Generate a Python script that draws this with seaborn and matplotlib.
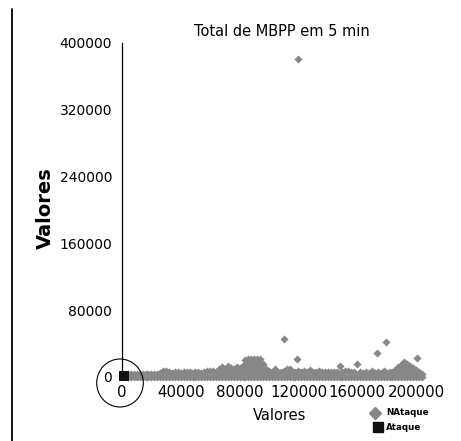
import pandas as pd
import matplotlib
matplotlib.use("Agg")
import matplotlib.pyplot as plt
from matplotlib.lines import Line2D
from matplotlib.patches import Ellipse
from matplotlib.ticker import MultipleLocator
import seaborn as sns

# ---- data -------------------------------------------------------------
# sample positions (in thousands) along the capture
amostra_mil = [2, 4, 6, 8, 10, 12, 14, 16, 18, 20, 22, 24, 26, 28, 30, 32, 34,
               36, 38, 40, 42, 44, 46, 48, 50, 52, 54, 56, 58, 60, 62, 64, 66,
               68, 70, 72, 74, 76, 78, 80, 82, 84, 86, 88, 90, 92, 94, 96, 98,
               100, 102, 104, 106, 108, 110, 112, 114, 116, 118, 120, 122, 124,
               126, 128, 130, 132, 134, 136, 138, 140, 142, 144, 146, 148, 150,
               152, 154, 156, 158, 160, 162, 164, 166, 168, 170, 172, 174, 176,
               178, 180, 182, 184, 186, 188, 190, 192, 194, 196, 198, 200, 202,
               204]
# upper values of the normal traffic at each position
topo_nataque = [3600, 3200, 3600, 3400, 3600, 3600, 3200, 3600, 3600, 3400,
                3600, 3600, 4400, 7500, 7200, 5600, 5200, 5600, 5600, 5000,
                5600, 5400, 5600, 5000, 5600, 5600, 5200, 6000, 7500, 7200,
                7500, 5600, 9600, 12000, 9600, 13400, 10800, 9600, 12000, 10800,
                13000, 20500, 21600, 21600, 21600, 21600, 21000, 15500, 9000,
                7200, 6000, 9600, 6500, 6000, 7200, 9600, 9000, 6500, 6000,
                7000, 6000, 7200, 6000, 8400, 6500, 6000, 7000, 6000, 5600,
                6000, 5600, 5600, 6000, 13200, 6000, 7500, 7500, 6500, 5600,
                15200, 5600, 4800, 5600, 5200, 6900, 5000, 5600, 4800, 6700,
                5200, 5600, 6500, 8700, 11500, 14500, 18300, 16000, 13500,
                11000, 8500, 6000, 4000]
# lowest values of the normal traffic at each position
base_nataque = [0] * len(amostra_mil)
# intermediate readings inside the denser stretches
meio_mil = [66, 68, 70, 72, 74, 76, 78, 80, 82,
            84, 84, 84, 86, 86, 86, 88, 88, 88, 90, 90, 90, 92, 92, 92,
            94, 94, 94, 96, 96, 98, 104, 112, 114,
            186, 188, 190, 190, 192, 192, 192, 194, 194, 196, 198, 200]
meio_val = [5000, 5500, 5000, 5500, 5000, 5000, 5500, 5000, 5500,
            5500, 11000, 16000, 5500, 11000, 16000, 5500, 11000, 16000,
            5500, 11000, 16000, 5500, 11000, 16000, 5500, 11000, 16000,
            5000, 10000, 4500, 4800, 4800, 4800,
            4500, 5500, 5000, 10000, 5000, 10000, 14000, 5000, 10500, 6500,
            5500, 4500]
# isolated readings of normal traffic
isolado_x = [119500, 110400, 118800, 179500, 173200, 200800]
isolado_y = [380600, 45500, 21600, 42300, 28400, 22400]
# attack readings
ataque_x = [1700]
ataque_y = [600]

xticks = [0, 40000, 80000, 120000, 160000, 200000]
yticks = [0, 80000, 160000, 240000, 320000, 400000]

cinza = "#878787"
preto = "#111111"

nataque = pd.DataFrame({
    "amostra": [v * 1000 for v in amostra_mil + amostra_mil + meio_mil] + isolado_x,
    "valor": base_nataque + topo_nataque + meio_val + isolado_y,
})
ataque = pd.DataFrame({"amostra": ataque_x, "valor": ataque_y})

# ---- figure -------------------------------------------------------------
sns.set_style("white")
plt.rcParams["font.family"] = ["DejaVu Sans"]

W, H = 461, 441
fig = plt.figure(figsize=(W / 100, H / 100), dpi=100)
x0, y0 = 122, 377          # pixel position of the origin
ax_w, ax_h = 302.8, 334
ax = fig.add_axes([x0 / W, (H - y0) / H, ax_w / W, ax_h / H])

sns.scatterplot(data=nataque, x="amostra", y="valor", ax=ax, marker="D",
                s=17, color=cinza, linewidth=0, clip_on=False, zorder=3,
                legend=False)
sns.scatterplot(data=ataque, x="amostra", y="valor", ax=ax, marker="s",
                s=55, color=preto, linewidth=0, clip_on=False, zorder=4,
                legend=False)

ax.set_xlim(0, 206000)
ax.set_ylim(0, 400000)
ax.set_xticks(xticks)
ax.set_xticklabels([str(t) for t in xticks])
ax.set_yticks(yticks)
ax.set_yticklabels([str(t) for t in yticks])
ax.yaxis.set_minor_locator(MultipleLocator(20000))

for side in ["top", "right", "bottom"]:
    ax.spines[side].set_visible(False)
ax.spines["left"].set_color("black")
ax.spines["left"].set_linewidth(0.9)
ax.spines["left"].set_zorder(2)

ax.tick_params(axis="y", which="major", direction="out", length=4, width=0.9,
               pad=3, labelsize=10, colors="black")
ax.tick_params(axis="y", which="minor", direction="out", length=2, width=0.9,
               colors="black")
ax.tick_params(axis="x", which="both", length=0, pad=6, labelsize=10.8,
               colors="black")

ax.set_xlabel("Valores", fontsize=10.5, color="black")
ax.xaxis.set_label_coords((280 - x0) / ax_w, (y0 - 415) / ax_h)
ax.xaxis.label.set_verticalalignment("center")

ax.set_ylabel("Valores", fontsize=14, fontweight="bold", color="black")
ax.yaxis.set_label_coords((45 - x0) / ax_w, (y0 - 208) / ax_h)
ax.yaxis.label.set_verticalalignment("center")

fig.text(282 / W, 1 - 31.7 / H, "Total de MBPP em 5 min", ha="center",
         va="center", fontsize=10.5, color="black")

# legend entries below the plot
fig.add_artist(Line2D([375 / W], [1 - 412.5 / H], marker="D", markersize=6.5,
                      color=cinza, linestyle="none", transform=fig.transFigure))
fig.add_artist(Line2D([377.5 / W], [1 - 427 / H], marker="s", markersize=7.6,
                      color=preto, linestyle="none", transform=fig.transFigure))
fig.text(386.5 / W, 1 - 412.5 / H, "NAtaque", ha="left", va="center",
         fontsize=6.3, fontweight="bold", color="black")
fig.text(386 / W, 1 - 427 / H, "Ataque", ha="left", va="center",
         fontsize=6.3, fontweight="bold", color="black")

# circle highlighting the origin
fig.add_artist(Ellipse((120 / W, 1 - 383 / H), 2 * 23.3 / W, 2 * 24 / H,
                       transform=fig.transFigure, fill=False,
                       edgecolor="black", linewidth=0.8))

# page rule on the left edge
fig.add_artist(Line2D([11.7 / W, 11.7 / W], [0, 1 - 9 / H], color="black",
                      linewidth=1.3, transform=fig.transFigure))

fig.savefig("out.png", dpi=100)
